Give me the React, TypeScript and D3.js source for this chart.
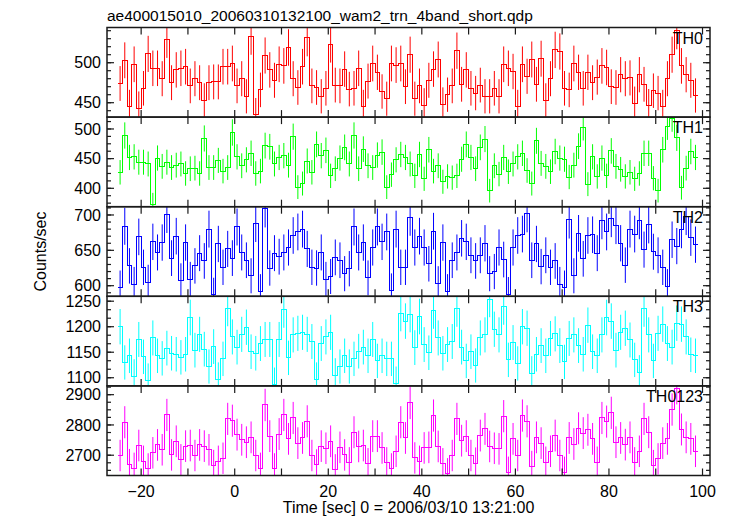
import React from "react";
import * as d3 from "d3";

const TITLE = "ae400015010_20060310132100_wam2_trn_4band_short.qdp";
const X_LABEL = "Time [sec] 0 = 2006/03/10 13:21:00";
const Y_LABEL = "Counts/sec";
const BIN_START = -25;
const BIN_SEC = 1;

const th0 = [474,503,445,498,443,468,511,493,493,480,529,475,491,493,495,471,480,475,453,475,476,476,495,495,499,471,480,458,533,435,466,509,491,478,498,496,519,480,469,495,531,471,469,458,468,523,472,471,492,467,468,493,445,477,499,488,464,455,499,497,499,470,510,455,471,447,478,492,504,448,460,471,515,473,491,468,462,472,458,458,468,458,498,493,489,445,498,483,504,473,505,453,480,516,514,468,466,499,488,468,488,475,482,496,494,470,469,485,480,481,449,485,473,446,465,462,445,480,510,540,496,485,478,459];
const th1 = [427,489,452,453,444,444,441,373,451,437,444,435,439,441,425,433,434,425,484,435,435,447,429,435,494,453,438,448,459,425,429,472,470,441,452,455,439,487,402,408,446,427,474,455,464,421,433,451,469,441,489,433,466,438,435,456,461,402,423,448,457,452,441,421,457,416,465,429,438,411,420,418,421,449,474,452,433,469,483,396,438,424,452,428,441,453,459,430,408,480,442,437,428,462,451,449,419,439,471,503,407,453,420,451,421,463,437,432,420,427,416,425,459,459,417,396,465,504,518,485,401,434,462,452];
const th2 = [597,684,628,602,669,626,605,662,647,661,701,639,670,607,661,609,628,646,635,680,587,659,626,652,639,683,647,636,614,688,592,709,625,646,641,647,654,671,676,680,652,626,625,647,609,613,640,636,617,624,683,647,661,611,654,683,662,676,593,680,626,626,697,654,670,654,631,677,603,661,592,636,647,667,662,643,635,643,660,617,620,654,637,588,654,671,673,702,636,659,627,643,626,635,602,597,693,614,674,638,671,672,646,692,676,695,685,660,629,680,673,692,651,686,648,643,626,599,665,656,679,698,668,658];
const th3 = [1200,1130,1143,1103,1175,1141,1095,1178,1143,1138,1158,1148,1146,1140,1146,1218,1154,1185,1156,1122,1161,1097,1137,1236,1180,1160,1185,1199,1151,1148,1167,1175,1175,1087,1175,1233,1139,1184,1187,1189,1185,1171,1097,1167,1180,1189,1105,1122,1143,1122,1137,1152,1160,1143,1175,1133,1143,1137,1137,1089,1226,1211,1224,1159,1220,1165,1149,1231,1178,1148,1165,1171,1235,1160,1133,1151,1124,1178,1184,1254,1195,1184,1239,1135,1169,1128,1200,1197,1109,1146,1163,1143,1177,1186,1163,1131,1177,1184,1163,1146,1203,1151,1143,1184,1218,1211,1154,1189,1197,1174,1135,1111,1235,1184,1133,1187,1205,1167,1160,1207,1205,1180,1145,1143];
const th0123 = [2699,2809,2669,2657,2732,2680,2655,2708,2734,2718,2833,2701,2746,2685,2730,2732,2699,2734,2730,2718,2666,2680,2690,2820,2814,2768,2751,2743,2759,2699,2657,2866,2763,2655,2770,2833,2754,2823,2740,2757,2812,2699,2668,2730,2723,2746,2652,2726,2701,2675,2776,2729,2732,2672,2763,2763,2724,2675,2655,2713,2809,2757,2873,2691,2680,2724,2726,2831,2729,2672,2639,2699,2820,2748,2763,2699,2674,2765,2787,2729,2723,2721,2829,2644,2754,2699,2831,2812,2663,2759,2740,2677,2713,2765,2699,2644,2757,2737,2789,2773,2784,2754,2677,2823,2811,2840,2743,2757,2735,2759,2675,2713,2820,2776,2666,2688,2740,2754,2851,2922,2785,2759,2754,2713];

const seriesNames = ["TH0", "TH1", "TH2", "TH3", "TH0123"];
const seriesData = [th0, th1, th2, th3, th0123];
const seriesColors = ["#ff0000", "#00ff00", "#0000ff", "#00ffff", "#ff00ff"];
const yDomains = [[432, 544], [369, 520], [585, 711.7], [1084, 1259.6], [2633, 2929]];
const yTickLabels = [[450, 500], [400, 450, 500], [600, 650, 700], [1100, 1150, 1200, 1250], [2700, 2800, 2900]];
const yMinorSteps = [10, 12.5, 10, 50 / 3, 25];
const xTickLabels = [-20, 0, 20, 40, 60, 80, 100];
const xTickMarks = [-20, -10, 0, 10, 20, 30, 40, 50, 60, 70, 80, 90, 100];

const LEFT = 107, RIGHT = 710, TOP = 27.5, PANEL_H = 89.6;
const FONT = "'Liberation Sans', Arial, Helvetica, sans-serif";
const AXIS = "#1a1a1a";

export default function App() {
  const x = d3.scaleLinear().domain([-27.3, 101.6]).range([LEFT, RIGHT]);
  const nPanels = seriesData.length;
  const bottom = TOP + PANEL_H * nPanels;

  const panels = seriesData.map((vals, p) => {
    const y0 = TOP + PANEL_H * p;
    const y1 = y0 + PANEL_H;
    const y = d3.scaleLinear().domain(yDomains[p]).range([y1, y0]);
    const edges = vals.map((v, i) => [BIN_START + i * BIN_SEC, v] as [number, number]);
    edges.push([BIN_START + vals.length * BIN_SEC, vals[vals.length - 1]]);
    const step = d3.line<[number, number]>().x(d => x(d[0])).y(d => y(d[1])).curve(d3.curveStepAfter)(edges) || "";
    const bars = vals.map((v, i) => {
      const t = BIN_START + (i + 0.5) * BIN_SEC;
      const e = Math.sqrt(v * BIN_SEC) / BIN_SEC;
      return { cx: x(t), ya: y(v + e), yb: y(v - e) };
    });
    const [d0, d1] = yDomains[p];
    const minors: number[] = [];
    const ms = yMinorSteps[p];
    for (let k = Math.ceil(d0 / ms); k * ms <= d1; k++) minors.push(k * ms);
    return { p, y0, y1, y, step, bars, minors };
  });

  return (
    <svg width={729} height={516} style={{ position: "absolute", left: 0, top: 0, background: "#fff" }} fontFamily={FONT}>
      <rect x={0} y={0} width={729} height={516} fill="#fff" />
      <defs>
        {panels.map(pn => (
          <clipPath id={`clip${pn.p}`} key={pn.p}>
            <rect x={LEFT} y={pn.y0} width={RIGHT - LEFT} height={PANEL_H} />
          </clipPath>
        ))}
      </defs>
      {panels.map(pn => (
        <g key={`d${pn.p}`} clipPath={`url(#clip${pn.p})`}>
          {pn.bars.map((b, i) => (
            <line key={i} x1={b.cx} x2={b.cx} y1={b.ya} y2={b.yb} stroke={seriesColors[pn.p]} strokeWidth={1} />
          ))}
          <path d={pn.step} fill="none" stroke={seriesColors[pn.p]} strokeWidth={1} shapeRendering="crispEdges" />
        </g>
      ))}
      {panels.map(pn => (
        <g key={`a${pn.p}`} stroke={AXIS} strokeWidth={1.2}>
          {xTickMarks.map(t => (
            <g key={t}>
              <line x1={x(t)} x2={x(t)} y1={pn.y0} y2={pn.y0 + 7} />
              <line x1={x(t)} x2={x(t)} y1={pn.y1} y2={pn.y1 - 7} />
            </g>
          ))}
          {yTickLabels[pn.p].map(v => (
            <g key={v}>
              <line x1={LEFT} x2={LEFT + 7} y1={pn.y(v)} y2={pn.y(v)} />
              <line x1={RIGHT} x2={RIGHT - 7} y1={pn.y(v)} y2={pn.y(v)} />
            </g>
          ))}
          {pn.minors.map(v => (
            <g key={`m${v}`}>
              <line x1={LEFT} x2={LEFT + 4} y1={pn.y(v)} y2={pn.y(v)} />
              <line x1={RIGHT} x2={RIGHT - 4} y1={pn.y(v)} y2={pn.y(v)} />
            </g>
          ))}
          <rect x={LEFT} y={pn.y0} width={RIGHT - LEFT} height={PANEL_H} fill="none" strokeWidth={1.5} />
        </g>
      ))}
      {panels.map(pn => (
        <g key={`t${pn.p}`} fontSize={16} fill="#000">
          {yTickLabels[pn.p].map(v => (
            <text key={v} x={LEFT - 6} y={pn.y(v)} dy="0.35em" textAnchor="end">{v}</text>
          ))}
          <text x={RIGHT - 7} y={pn.y0 + 16} textAnchor="end">{seriesNames[pn.p]}</text>
        </g>
      ))}
      <g fontSize={16} fill="#000">
        {xTickLabels.map(t => (
          <text key={t} x={x(t)} y={bottom + 21} textAnchor="middle">{t < 0 ? `\u2212${Math.abs(t)}` : t}</text>
        ))}
        <text x={(LEFT + RIGHT) / 2} y={bottom + 37} textAnchor="middle">{X_LABEL}</text>
        <text transform={`translate(46, ${(TOP + bottom) / 2}) rotate(-90)`} textAnchor="middle">{Y_LABEL}</text>
        <text x={LEFT} y={21} fontSize={15.5}>{TITLE}</text>
      </g>
    </svg>
  );
}
